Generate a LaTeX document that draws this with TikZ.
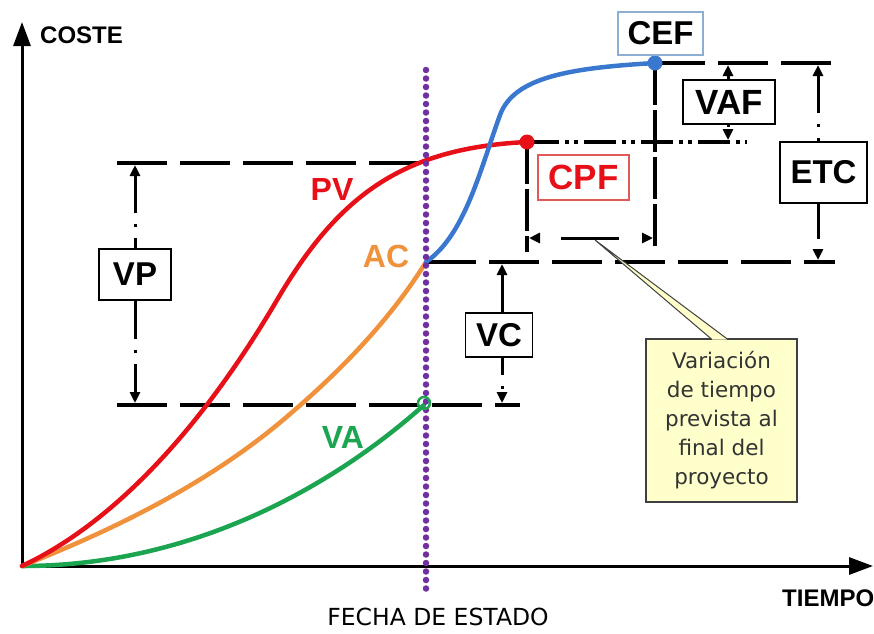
\documentclass[tikz,border=0pt]{standalone}
\usepackage{fontspec}
\setmainfont{Liberation Sans}
\newfontfamily\callfont{DejaVu Sans}
\usetikzlibrary{arrows.meta}
\definecolor{pvred}{RGB}{232,16,24}
\definecolor{acorange}{RGB}{240,145,60}
\definecolor{vagreen}{RGB}{28,165,80}
\definecolor{acblue}{RGB}{58,120,208}
\definecolor{fecha}{RGB}{112,48,160}
\definecolor{calloutfill}{RGB}{255,255,204}
\definecolor{cefborder}{RGB}{140,175,210}
\definecolor{cpfborder}{RGB}{225,90,90}
\tikzset{
  curve/.style={line width=4.5pt, line cap=round, line join=round},
  longdash/.style={line width=3.5pt, dash pattern=on 50pt off 13pt},
  vdash/.style={line width=3.5pt, dash pattern=on 42pt off 5pt},
  dimline/.style={line width=3pt, dash pattern=on 38pt off 11pt on 3pt off 11pt,
    {Triangle[length=11pt,width=10pt]}-{Triangle[length=11pt,width=10pt]}},
  dashdotdot/.style={line width=3.5pt, dash pattern=on 32pt off 6pt on 4pt off 5pt on 4pt off 6pt},
  lbox/.style={draw=black, line width=1.3pt, fill=white, inner sep=0pt,
    font=\bfseries\fontsize{33}{33}\selectfont},
  clabel/.style={font=\bfseries\fontsize{32}{32}\selectfont, inner sep=0pt},
  axis/.style={line width=3pt, -{Triangle[length=24pt,width=17pt]}},
}
\begin{document}
\begin{tikzpicture}[x=1pt,y=-1pt]
\useasboundingbox (0,0) rectangle (874,633);

% key coordinates
\coordinate (O) at (22,566);
\coordinate (ytop) at (22,22);
\coordinate (xend) at (873,566);
\coordinate (pvL) at (117,163);
\coordinate (pvR) at (426,163);
\coordinate (vaL) at (117,405);
\coordinate (vaR) at (520,405);
\coordinate (acS) at (426,262);
\coordinate (acR) at (835,262);
\coordinate (cef) at (655,63);
\coordinate (cefR) at (833,63);
\coordinate (cpf) at (527,142);
\coordinate (cpfR) at (747,142);
\coordinate (cpfD) at (527,252);
\coordinate (cefD) at (655,250);
\coordinate (vaP) at (424,403);
\coordinate (fTop) at (426,70);
\coordinate (fBot) at (426,590);

% axes
\draw[axis] (O) -- (ytop);
\draw[axis] (O) -- (xend);
\node[anchor=west, font=\bfseries\fontsize{24}{24}\selectfont, inner sep=0pt] (coste) at (40,35) {COSTE};
\node[anchor=west, font=\bfseries\fontsize{24}{24}\selectfont, inner sep=0pt] (tiempo) at (782,598) {TIEMPO};
\node[font=\callfont\fontsize{23.5}{23.5}\selectfont, inner sep=0pt] (fechalbl) at (438,617) {FECHA DE ESTADO};

% reference lines
\draw[longdash] (pvL) -- (pvR);
\draw[longdash] (vaL) -- (vaR);
\draw[longdash] (acS) -- (acR);
\draw[longdash] (cef) -- (cefR);
\draw[dashdotdot] (cpf) -- (cpfR);
\draw[vdash] (cpf) -- (cpfD);
\draw[vdash] (cef) -- (cefD);

% curves
\draw[curve, vagreen] (O) .. controls (200,566) and (340,480) .. (424,405);
\draw[curve, acorange] (O) .. controls (100,535) and (200,490) .. (283,420)
  .. controls (340,372) and (390,320) .. (acS);
\draw[curve, pvred] (O) .. controls (120,520) and (207,419) .. (277,300)
  .. controls (337,198) and (400,148) .. (cpf);
\draw[curve, acblue] (acS) .. controls (465,235) and (480,170) .. (500,115)
  .. controls (514,77) and (570,68) .. (cef);

% fecha de estado
\draw[fecha, line width=6.5pt, line cap=round, dash pattern=on 0pt off 8.5pt] (fTop) -- (fBot);

% points
\fill[pvred] (cpf) circle (7.5pt);
\fill[acblue] (cef) circle (7.5pt);
\draw[vagreen, line width=2.5pt] (vaP) circle (6pt);

% curve labels
\node[clabel, pvred] (pvlbl) at (332,189) {PV};
\node[clabel, acorange] (aclbl) at (386,256) {AC};
\node[clabel, vagreen] (valbl) at (343,437) {VA};

% dimension arrows
\coordinate (vpT) at (135,165);
\coordinate (vpB) at (135,403);
\draw[dimline] (vpT) -- (vpB);
\node[lbox, minimum width=72pt, minimum height=51pt] (VP) at (135,274.5) {VP};

\coordinate (vcT) at (502,264);
\coordinate (vcB) at (502,403);
\draw[dimline] (vcT) -- (vcB);
\node[lbox, minimum width=67pt, minimum height=44pt] (VC) at (499,335) {VC};

\coordinate (vafT) at (728,65);
\coordinate (vafB) at (728,140);
\draw[dimline] (vafT) -- (vafB);
\node[lbox, minimum width=92pt, minimum height=44pt, font=\bfseries\fontsize{35}{35}\selectfont] (VAF) at (729,102) {VAF};

\coordinate (etcT) at (818,65);
\coordinate (etcB) at (818,260);
\draw[dimline] (etcT) -- (etcB);
\node[lbox, minimum width=87pt, minimum height=61pt] (ETC) at (823.5,172.5) {ETC};

\coordinate (tL) at (529,238);
\coordinate (tR) at (653,238);
\draw[line width=3pt, dash pattern=on 0pt off 22pt on 58pt off 60pt,
  {Triangle[length=11pt,width=10pt]}-{Triangle[length=11pt,width=10pt]}] (tL) -- (tR);

% CEF and CPF labels
\node[lbox, draw=cefborder, minimum width=85pt, minimum height=43pt] (CEF) at (660.5,33.5) {CEF};
\node[lbox, draw=cpfborder, text=pvred, minimum width=91pt, minimum height=45pt, font=\bfseries\fontsize{35}{35}\selectfont] (CPF) at (583.5,177.5) {CPF};

% callout
\node[draw=black!75, line width=1.3pt, fill=calloutfill, minimum width=151pt, minimum height=163pt,
  inner sep=0pt, align=center, text=black!80,
  font=\callfont\fontsize{21.5}{29}\selectfont] (note) at (721.5,420.5)
  {Variación\\de tiempo\\prevista al\\final del\\proyecto};
\coordinate (ptip) at (595,240);
\coordinate (pb1) at (712,339.5);
\coordinate (pb2) at (728,339.5);
\fill[calloutfill] (ptip) -- (pb1) -- (pb2) -- cycle;
\draw[black!75, line width=1pt] (pb1) -- (ptip) -- (pb2);
\end{tikzpicture}
\end{document}
